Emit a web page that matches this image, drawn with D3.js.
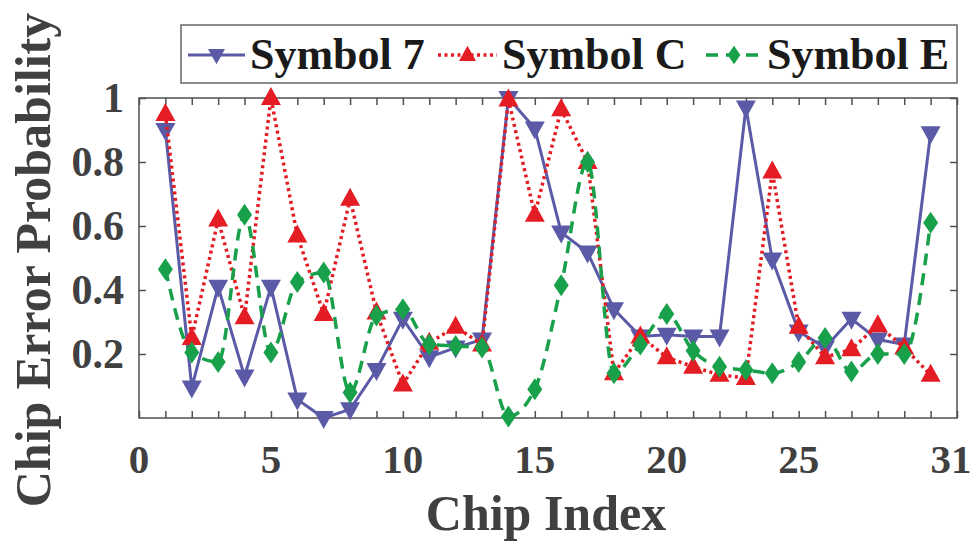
<!DOCTYPE html>
<html>
<head>
<meta charset="utf-8">
<script src="https://cdn.jsdelivr.net/npm/d3@7"></script>
<style>
  html, body { margin: 0; padding: 0; background: #fff; }
  svg { display: block; }
  text { font-family: "Liberation Serif", "Times New Roman", serif; font-weight: bold; }
</style>
</head>
<body>
<svg id="chart" width="975" height="544"></svg>
<script>
// Chip indices 1..30
const chipIndex = d3.range(1, 31);

// Error probability per chip for each transmitted symbol
const symbol7 = [0.90, 0.095, 0.41, 0.13, 0.41, 0.058, 0.0, 0.027, 0.15, 0.31,
                 0.19, 0.22, 0.245, 1.0, 0.905, 0.58, 0.517, 0.34, 0.255, 0.26,
                 0.255, 0.255, 0.97, 0.495, 0.27, 0.22, 0.31, 0.245, 0.23, 0.89];
const symbolC = [0.95, 0.25, 0.62, 0.315, 1.0, 0.57, 0.325, 0.685, 0.33, 0.105,
                 0.235, 0.285, 0.23, 0.995, 0.635, 0.965, 0.80, 0.14, 0.255, 0.19,
                 0.16, 0.135, 0.125, 0.77, 0.285, 0.19, 0.215, 0.29, 0.22, 0.135];
const symbolE = [0.465, 0.205, 0.175, 0.635, 0.205, 0.425, 0.455, 0.08, 0.32, 0.34,
                 0.23, 0.225, 0.22, 0.005, 0.09, 0.415, 0.80, 0.14, 0.23, 0.325,
                 0.21, 0.16, 0.15, 0.14, 0.175, 0.25, 0.145, 0.20, 0.20, 0.61];

const seriesNames = ["Symbol 7", "Symbol C", "Symbol E"];
const xTickLabels = [0, 5, 10, 15, 20, 25, 31];
const yTickLabels = [0.2, 0.4, 0.6, 0.8, 1];

const svg = d3.select("#chart");
const plot = { left: 139, right: 957, top: 98, bottom: 418 };
const axisColor = "#505050";
const textColor = "#404040";

const x = d3.scaleLinear().domain([0, 31]).range([plot.left, plot.right]);
const y = d3.scaleLinear().domain([0, 1]).range([plot.bottom, plot.top]);

// Marker shapes
const downTri = "M-10,-7L10,-7L0,11Z";
const upTri = "M-10,7L10,7L0,-11Z";
const diamond = "M0,-11L7.5,0L0,11L-7.5,0Z";

const series = [
  { name: seriesNames[0], values: symbol7, color: "#5a5aa6", dash: null, width: 3, marker: downTri, curve: d3.curveLinear },
  { name: seriesNames[1], values: symbolC, color: "#e31d23", dash: "3,3.5", width: 3.5, marker: upTri, curve: d3.curveLinear },
  { name: seriesNames[2], values: symbolE, color: "#18a04a", dash: "12,8", width: 3.5, marker: diamond, curve: d3.curveMonotoneX }
];

// Axes box
const g = svg.append("g");
g.append("rect")
  .attr("x", plot.left).attr("y", plot.top)
  .attr("width", plot.right - plot.left).attr("height", plot.bottom - plot.top)
  .attr("fill", "none").attr("stroke", axisColor).attr("stroke-width", 1.5);

// Inward ticks on all four sides
const xTicks = d3.range(0, 32);
const tickLen = 7;
const bottomAxis = d3.axisBottom(x).tickValues(xTicks).tickSize(-tickLen).tickFormat("");
const topAxis = d3.axisTop(x).tickValues(xTicks).tickSize(-tickLen).tickFormat("");
const leftAxis = d3.axisLeft(y).tickValues(yTickLabels).tickSize(-tickLen).tickFormat("");
const rightAxis = d3.axisRight(y).tickValues(yTickLabels).tickSize(-tickLen).tickFormat("");

function styleAxis(sel) {
  sel.select(".domain").remove();
  sel.selectAll(".tick line").attr("stroke", axisColor).attr("stroke-width", 1.5);
}
g.append("g").attr("transform", `translate(0,${plot.bottom})`).call(bottomAxis).call(styleAxis);
g.append("g").attr("transform", `translate(0,${plot.top})`).call(topAxis).call(styleAxis);
g.append("g").attr("transform", `translate(${plot.left},0)`).call(leftAxis).call(styleAxis);
g.append("g").attr("transform", `translate(${plot.right},0)`).call(rightAxis).call(styleAxis);

// Tick labels (the last one is pulled in slightly so it stays on the page)
g.selectAll(".xlab").data(xTickLabels).enter().append("text")
  .attr("x", d => Math.min(x(d), 951)).attr("y", 473)
  .attr("text-anchor", "middle").attr("font-size", 41).attr("fill", textColor)
  .text(d => d);
g.selectAll(".ylab").data(yTickLabels).enter().append("text")
  .attr("x", plot.left - 15).attr("y", d => y(d) + 14)
  .attr("text-anchor", "end").attr("font-size", 42).attr("fill", textColor)
  .text(d => d);

// Axis titles
g.append("text")
  .attr("x", (plot.left + plot.right) / 2 - 2).attr("y", 530)
  .attr("text-anchor", "middle").attr("font-size", 50).attr("fill", textColor)
  .text("Chip Index");
g.append("text")
  .attr("transform", `translate(50,${(plot.top + plot.bottom) / 2 + 2}) rotate(-90)`)
  .attr("text-anchor", "middle").attr("font-size", 50).attr("fill", textColor)
  .text("Chip Error Probability");

// Series lines and markers
series.forEach(s => {
  const pts = chipIndex.map((c, i) => [c, s.values[i]]);
  const line = d3.line().x(d => x(d[0])).y(d => y(d[1])).curve(s.curve);
  g.append("path").datum(pts)
    .attr("d", line).attr("fill", "none")
    .attr("stroke", s.color).attr("stroke-width", s.width)
    .attr("stroke-dasharray", s.dash);
  g.selectAll(null).data(pts).enter().append("path")
    .attr("d", s.marker)
    .attr("transform", d => `translate(${x(d[0])},${y(d[1])})`)
    .attr("fill", s.color);
});

// Legend
const legend = svg.append("g");
legend.append("rect")
  .attr("x", 181).attr("y", 25).attr("width", 776).attr("height", 58)
  .attr("fill", "#fff").attr("stroke", "#666").attr("stroke-width", 1.5);
const legendItems = [
  { x0: 188, x1: 245, text: 250 },
  { x0: 438, x1: 497, text: 502 },
  { x0: 706, x1: 762, text: 767 }
];
series.forEach((s, i) => {
  const it = legendItems[i];
  const cy = 55;
  legend.append("line")
    .attr("x1", it.x0).attr("x2", it.x1).attr("y1", cy).attr("y2", cy)
    .attr("stroke", s.color).attr("stroke-width", s.width)
    .attr("stroke-dasharray", s.dash);
  legend.append("path")
    .attr("d", s.marker)
    .attr("transform", `translate(${(it.x0 + it.x1) / 2},${cy}) scale(0.85)`)
    .attr("fill", s.color);
  legend.append("text")
    .attr("x", it.text).attr("y", 69)
    .attr("font-size", 44).attr("fill", "#1a1a1a")
    .text(s.name);
});
</script>
</body>
</html>
